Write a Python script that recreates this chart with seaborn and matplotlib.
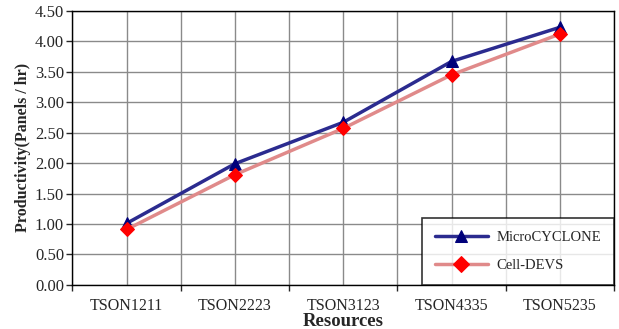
import matplotlib
matplotlib.use("Agg")
import matplotlib.pyplot as plt
from matplotlib.ticker import FixedLocator
import seaborn as sns
import pandas as pd

resources = ['TSON1211', 'TSON2223', 'TSON3123', 'TSON4335', 'TSON5235']
micro_cyclone = [1.01, 1.99, 2.67, 3.67, 4.23]
cell_devs = [0.91, 1.81, 2.57, 3.45, 4.12]

df = pd.DataFrame({
    'Resources': resources * 2,
    'Productivity': micro_cyclone + cell_devs,
    'Model': ['MicroCYCLONE'] * 5 + ['Cell-DEVS'] * 5,
})

sns.set_style('white')
plt.rcParams['font.family'] = ['Liberation Serif', 'DejaVu Serif']

fig, ax = plt.subplots(figsize=(6.19, 3.29), dpi=100)
fig.subplots_adjust(left=0.117, right=0.992, top=0.967, bottom=0.134)

sns.lineplot(data=df, x='Resources', y='Productivity', hue='Model', style='Model',
             palette={'MicroCYCLONE': '#2b2b8f', 'Cell-DEVS': '#e08a8a'},
             markers={'MicroCYCLONE': '^', 'Cell-DEVS': 'D'}, dashes=False,
             linewidth=2.5, markersize=8, ax=ax, sort=False)

# marker fill colours differ from line colours
for line, mc in zip(ax.lines[:2], ['#00007a', '#ff0000']):
    line.set_markerfacecolor(mc)
    line.set_markeredgecolor(mc)
ax.lines[1].set_markersize(7)

ax.set_xlim(-0.5, 4.5)
ax.set_ylim(0, 4.5)
ax.set_yticks([i * 0.5 for i in range(10)])
ax.set_yticklabels([f'{i * 0.5:.2f}' for i in range(10)])
ax.xaxis.set_minor_locator(FixedLocator([-0.5, 0.5, 1.5, 2.5, 3.5, 4.5]))
ax.grid(True, which='major', color='#8a8a8a', linewidth=1.0)
ax.grid(True, which='minor', axis='x', color='#8a8a8a', linewidth=1.0)
ax.tick_params(axis='y', which='major', left=True, length=4, width=1, labelsize=12, pad=2)
ax.tick_params(axis='x', which='major', bottom=False, labelsize=11.5, pad=6)
ax.tick_params(axis='x', which='minor', bottom=True, length=4, width=1)

for s in ax.spines.values():
    s.set_color('black')
    s.set_linewidth(1.0)

ax.set_xlabel('Resources', fontsize=13.5, fontweight='bold', labelpad=-1)
ax.set_ylabel('Productivity(Panels / hr)', fontsize=11.5, fontweight='bold', labelpad=3)

handles, labels = ax.get_legend_handles_labels()
for h, mc in zip(handles, ['#00007a', '#ff0000']):
    h.set_markerfacecolor(mc)
    h.set_markeredgecolor(mc)
leg = ax.legend(handles, labels, loc='lower right', bbox_to_anchor=(1.0, 0.0),
                frameon=True, fancybox=False, edgecolor='black', fontsize=10.5,
                handlelength=3.6, handletextpad=0.6, labelspacing=1.0,
                borderpad=0.9, borderaxespad=0)
leg.get_frame().set_linewidth(1.2)

fig.savefig('out.png', dpi=100)
